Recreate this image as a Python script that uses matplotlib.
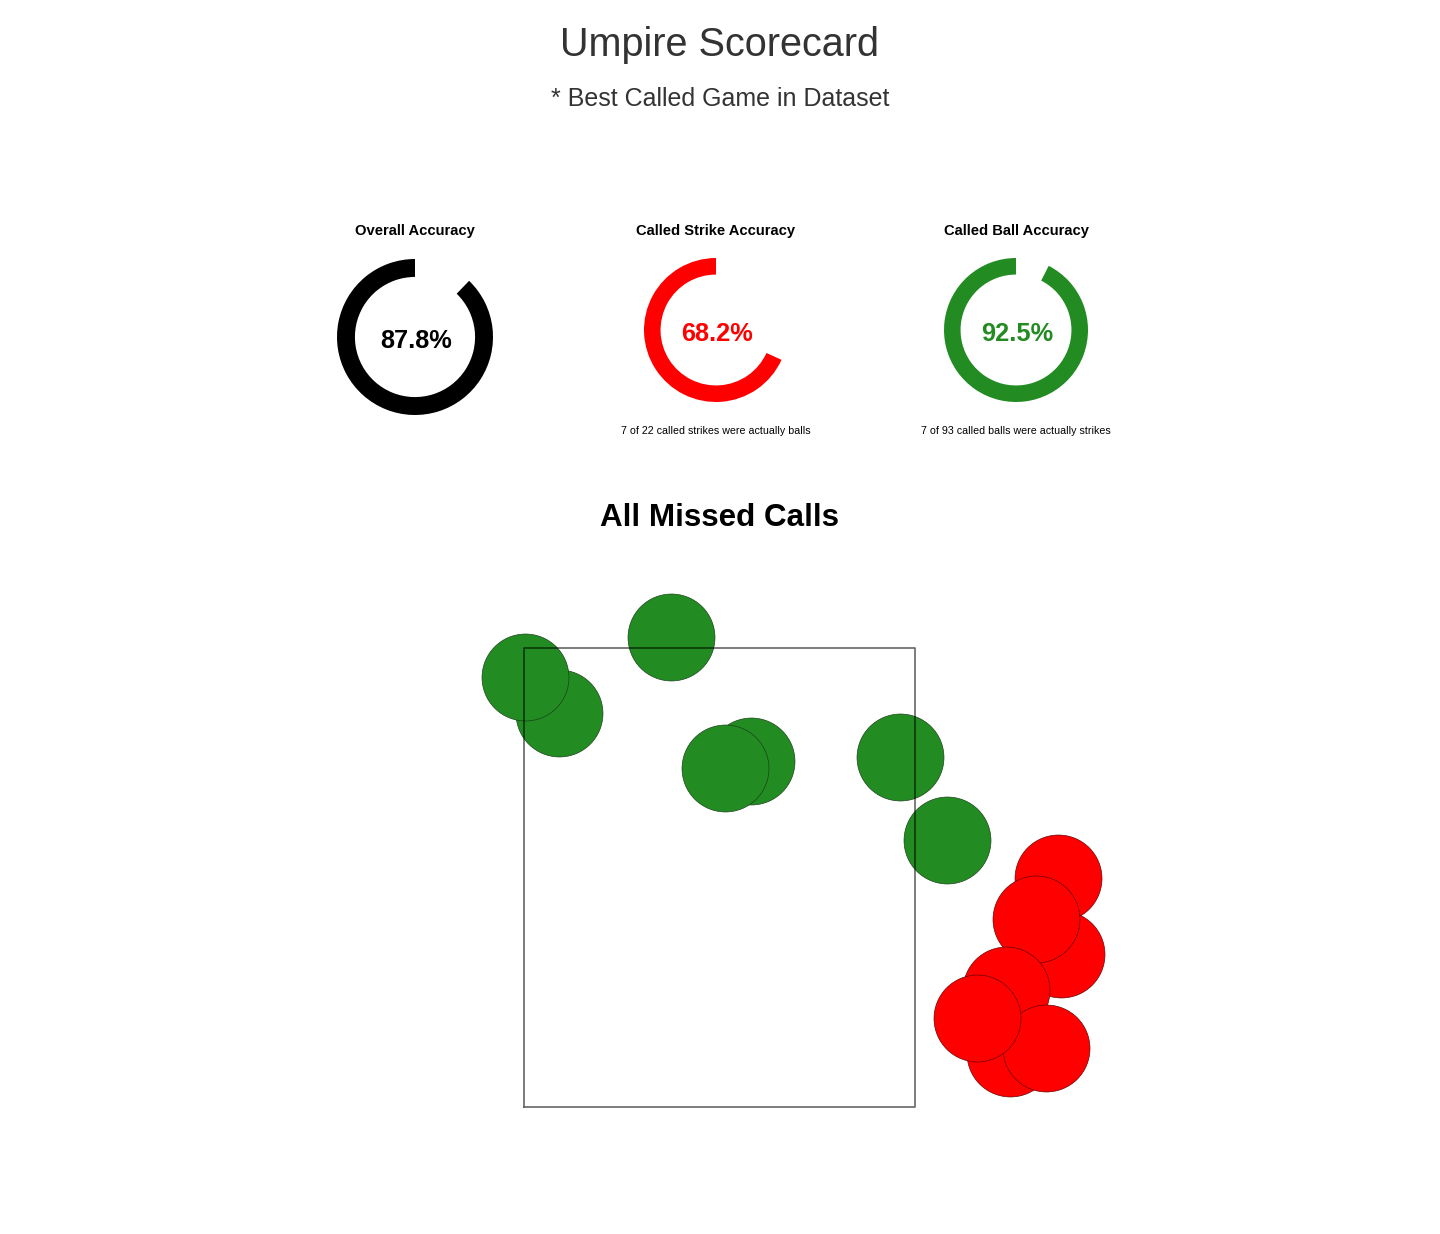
import matplotlib
matplotlib.use("Agg")
import matplotlib.pyplot as plt

plt.rcParams['font.family'] = ['Liberation Sans', 'DejaVu Sans']

W, H = 1440, 1234

# donut data
gauge_titles = ['Overall Accuracy', 'Called Strike Accuracy', 'Called Ball Accuracy']
gauge_values = [87.8, 68.2, 92.5]
gauge_colors = ['black', 'red', 'forestgreen']
gauge_notes = ['', '7 of 22 called strikes were actually balls',
               '7 of 93 called balls were actually strikes']

# missed calls (plate_x, plate_z in feet)
ball_x = [-0.681, -0.825, -0.205, 0.134, 0.024, 0.767, 0.967]
ball_z = [3.224, 3.377, 3.547, 3.020, 2.991, 3.037, 2.685]
strike_x = [1.438, 1.451, 1.345, 1.234, 1.217, 1.387, 1.094]
strike_z = [2.524, 2.201, 2.350, 1.781, 2.048, 1.802, 1.929]

sz_left, sz_right = -0.83, 0.83
sz_bot, sz_top = 1.55, 3.5

fig = plt.figure(figsize=(W / 100, H / 100), dpi=100)


def px(x, y):
    return x / W, 1 - y / H


# titles
fig.text(*px(720, 56), 'Umpire Scorecard', ha='center', va='baseline',
         fontsize=28.5, color='#333333')
fig.text(*px(720, 106), '* Best Called Game in Dataset', ha='center',
         va='baseline', fontsize=18, color='#333333')

# donuts: center x, center y, radius (px)
centers = [(415, 337, 78), (716, 330, 72), (1016, 330, 72)]
for (cx, cy, r), t, v, c, note in zip(centers, gauge_titles, gauge_values,
                                       gauge_colors, gauge_notes):
    ax = fig.add_axes([(cx - r) / W, 1 - (cy + r) / H, 2 * r / W, 2 * r / H])
    ax.pie([v, 100 - v], colors=[c, 'none'], startangle=90, counterclock=True,
           wedgeprops=dict(width=0.23, linewidth=0))
    ax.set_xlim(-1, 1)
    ax.set_ylim(-1, 1)
    ax.set_aspect('equal')
    ax.axis('off')
    ax.text(0.01, -4 / r, f'{v}%', ha='center', va='center', fontsize=18.3,
            fontweight='bold', color=c)
    fig.text(*px(cx, 235), t, ha='center', va='baseline', fontsize=10.6,
             fontweight='bold', color='black')
    if note:
        fig.text(*px(cx, 434), note, ha='center', va='baseline',
                 fontsize=7.7, color='black')

fig.text(*px(720, 526), 'All Missed Calls', ha='center', va='baseline',
         fontsize=22.6, fontweight='bold', color='black')

# strike zone plot
ax = fig.add_axes([380 / W, 1 - 1140 / H, 780 / W, 580 / H])
ax.scatter(ball_x, ball_z, s=3920, color='forestgreen', edgecolor='#1a3a1a',
           linewidth=0.45, zorder=2)
ax.scatter(strike_x, strike_z, s=3920, color='red', edgecolor='#5a0000',
           linewidth=0.45, zorder=2)
ax.plot([sz_left, sz_right, sz_right, sz_left, sz_left],
        [sz_bot, sz_bot, sz_top, sz_top, sz_bot],
        color='black', alpha=0.6, linewidth=1.2, zorder=3)
ax.set_xlim(-1.441, 1.871)
ax.set_ylim(1.411, 3.874)
ax.axis('off')

fig.savefig('out.png', dpi=100, facecolor='white')
